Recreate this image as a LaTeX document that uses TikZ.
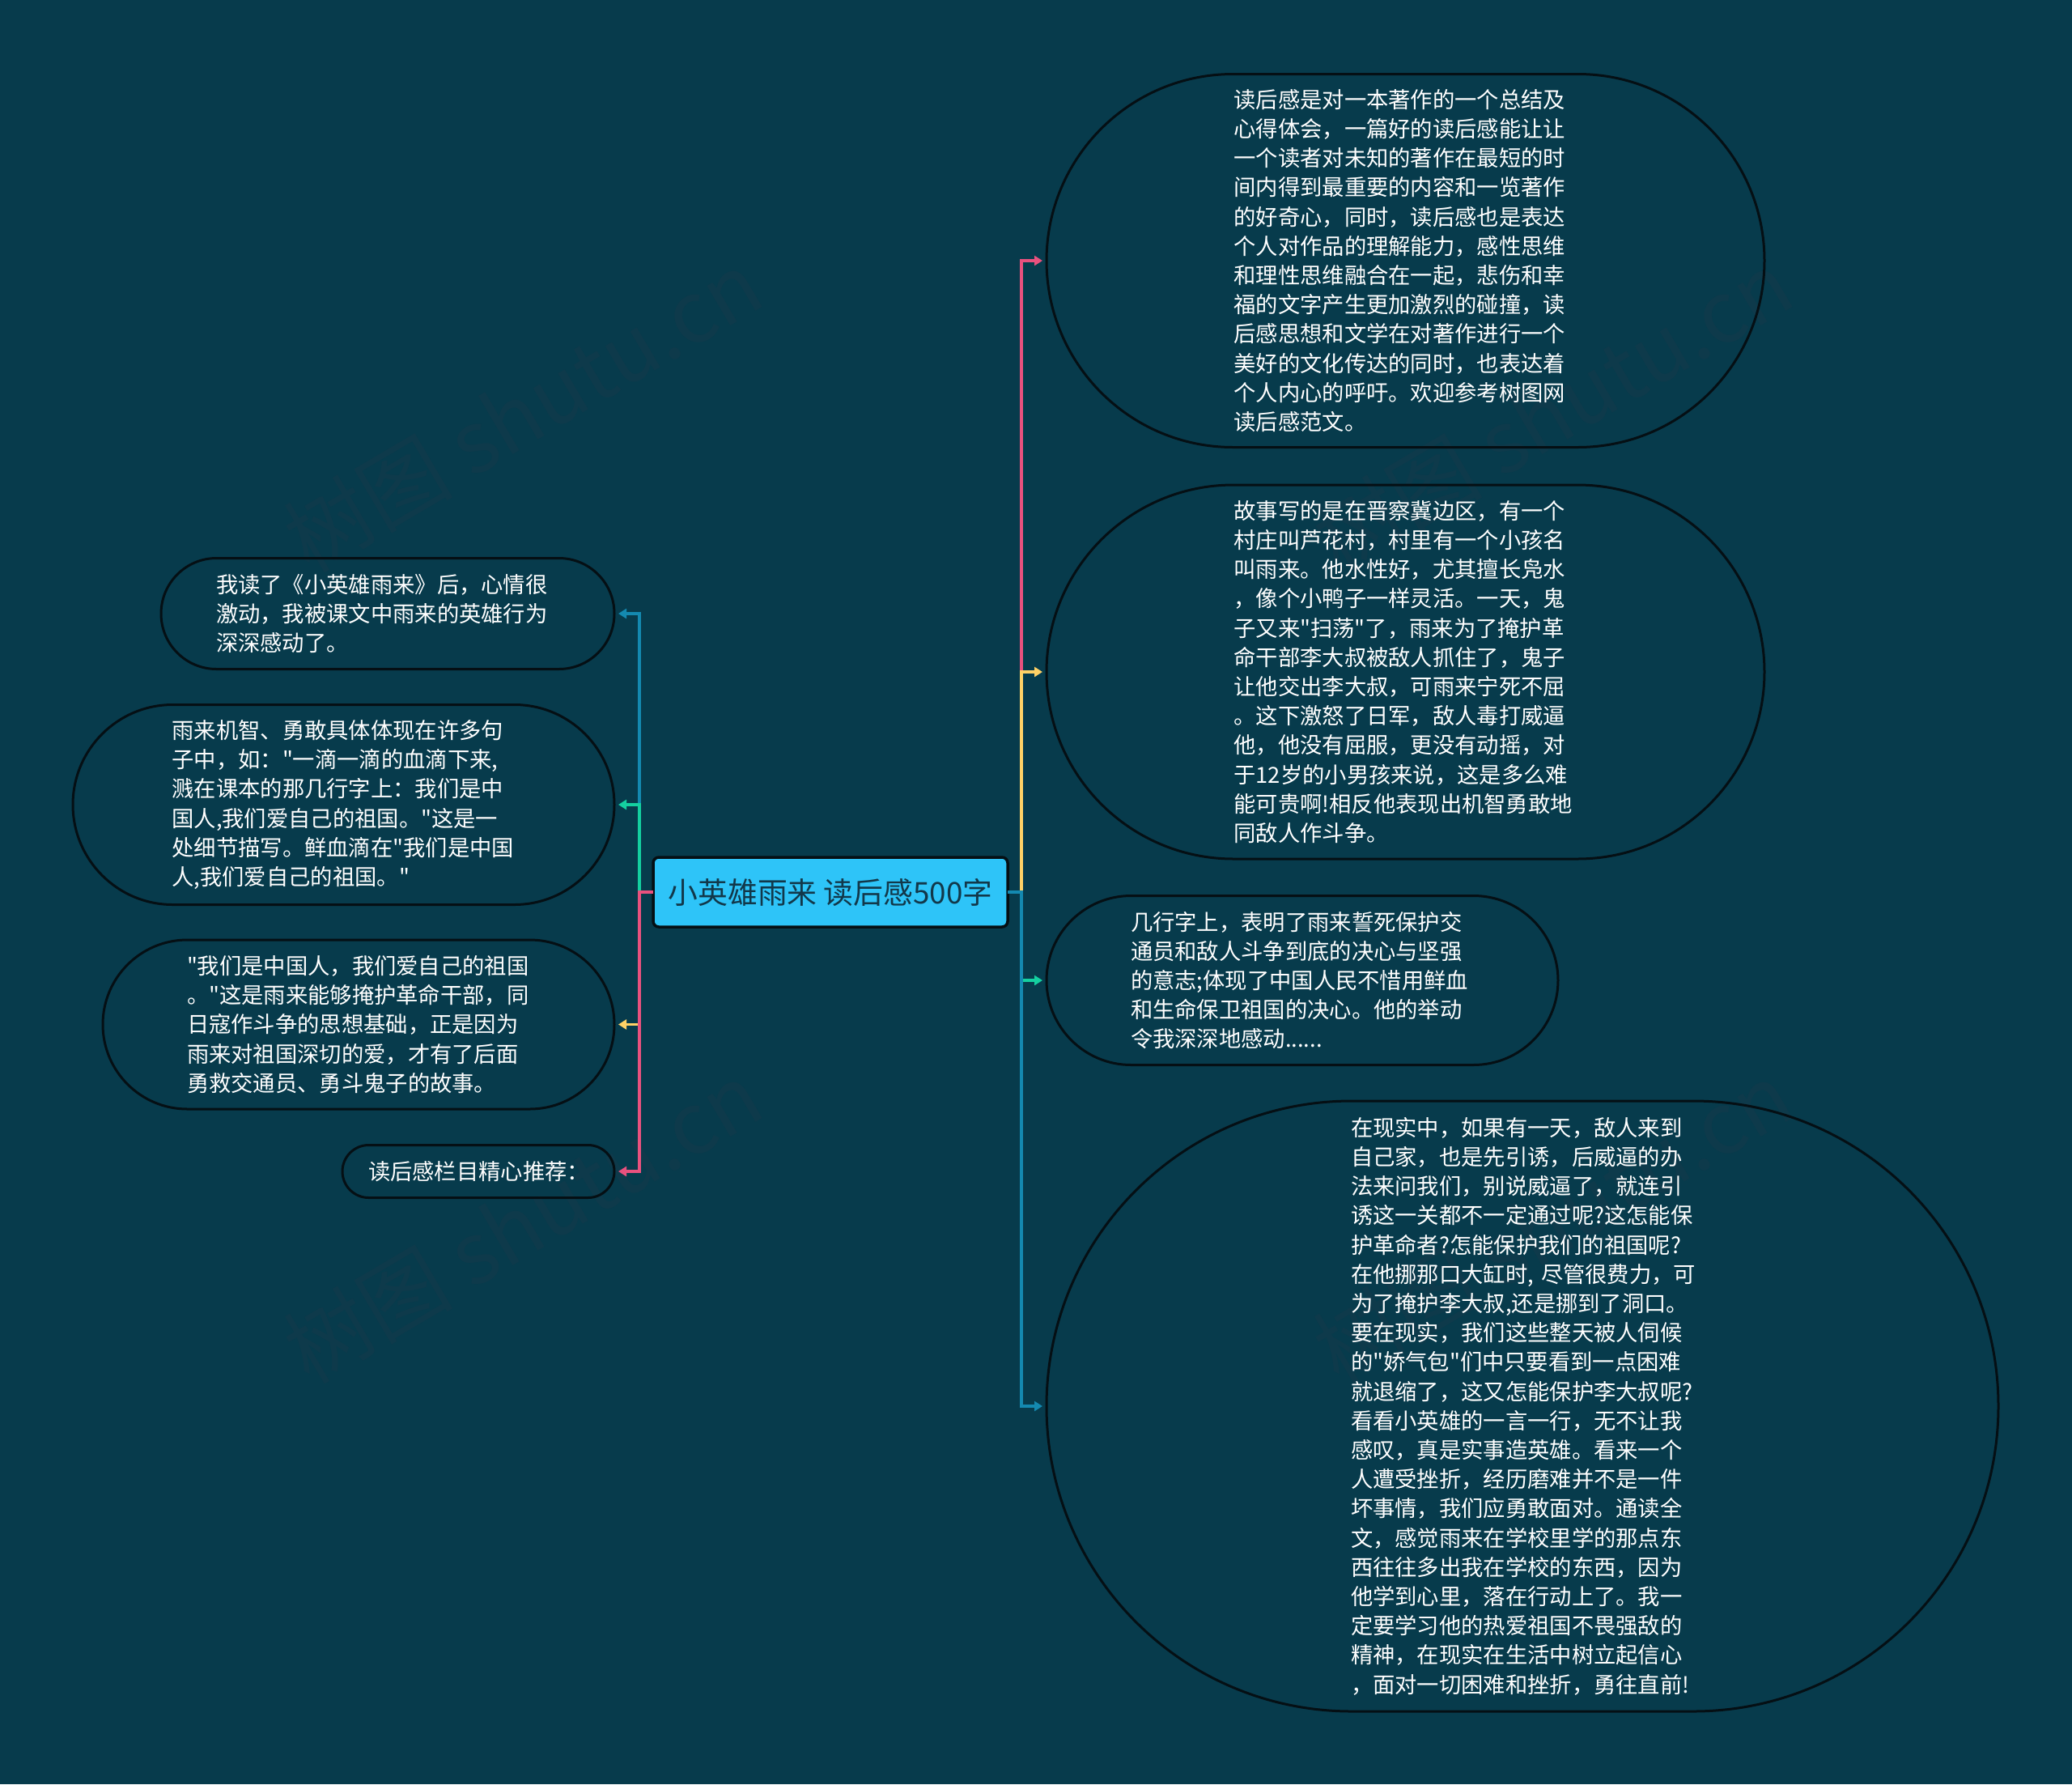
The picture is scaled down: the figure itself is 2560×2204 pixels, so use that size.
\documentclass[tikz,border=0pt]{standalone}
\usepackage{fontspec}
\usetikzlibrary{arrows.meta,shapes.misc}
\newfontfamily\cjk{Noto Sans CJK SC}
\definecolor{bgc}{HTML}{073B4C}
\definecolor{wmc}{HTML}{0E3A4B}
\definecolor{rootc}{HTML}{2EC4F8}
\definecolor{pinkc}{HTML}{E9517E}
\definecolor{yelc}{HTML}{FFD166}
\definecolor{grnc}{HTML}{14CFA0}
\definecolor{bluc}{HTML}{1489B0}
\definecolor{inkc}{HTML}{12384A}
\definecolor{edgec}{HTML}{050F14}
\tikzset{
  x=1pt,y=-1pt,
  bubble/.style={draw=edgec,line width=3pt,shape=rounded rectangle,rounded rectangle arc length=180,
    inner sep=0pt,outer sep=0pt,text=white,text width=424pt,align=left,
    font=\cjk\fontsize{27.3}{36.2}\selectfont},
  rootbox/.style={draw=edgec,line width=3.5pt,fill=rootc,rounded corners=7pt,inner sep=0pt,outer sep=0pt,
    minimum width=438pt,minimum height=86pt,text=inkc,font=\cjk\fontsize{36.8}{44}\selectfont},
  wmark/.style={text=wmc,rotate=30.5,inner sep=0pt,font=\cjk\fontsize{105}{120}\selectfont},
  link/.style={line width=3.4pt,line join=miter,-{Triangle[length=10pt,width=12pt]},shorten >=5pt}
}
\begin{document}
\begin{tikzpicture}
\useasboundingbox[fill=bgc] (0,0) rectangle (2560,2204);
\node[wmark] (w1) at (646,508) {树图 shutu.cn};
\node[wmark] (w2) at (1918,508) {树图 shutu.cn};
\node[wmark] (w3) at (646,1510) {树图 shutu.cn};
\node[wmark] (w4) at (1918,1510) {树图 shutu.cn};

\node[rootbox] (root) at (1026,1102) {小英雄雨来 读后感500字};

\node[bubble,minimum width=887pt,minimum height=461pt] (n1) at (1736.5,322) {读后感是对一本著作的一个总结及\\
心得体会，一篇好的读后感能让让\\
一个读者对未知的著作在最短的时\\
间内得到最重要的内容和一览著作\\
的好奇心，同时，读后感也是表达\\
个人对作品的理解能力，感性思维\\
和理性思维融合在一起，悲伤和幸\\
福的文字产生更加激烈的碰撞，读\\
后感思想和文学在对著作进行一个\\
美好的文化传达的同时，也表达着\\
个人内心的呼吁。欢迎参考树图网\\
读后感范文。};

\node[bubble,minimum width=887pt,minimum height=462pt] (n2) at (1736.5,830) {故事写的是在晋察冀边区，有一个\\
村庄叫芦花村，村里有一个小孩名\\
叫雨来。他水性好，尤其擅长凫水\\
，像个小鸭子一样灵活。一天，鬼\\
子又来"扫荡"了，雨来为了掩护革\\
命干部李大叔被敌人抓住了，鬼子\\
让他交出李大叔，可雨来宁死不屈\\
。这下激怒了日军，敌人毒打威逼\\
他，他没有屈服，更没有动摇，对\\
于12岁的小男孩来说，这是多么难\\
能可贵啊!相反他表现出机智勇敢地\\
同敌人作斗争。};

\node[bubble,minimum width=632pt,minimum height=209pt] (n3) at (1609,1211) {几行字上，表明了雨来誓死保护交\\
通员和敌人斗争到底的决心与坚强\\
的意志;体现了中国人民不惜用鲜血\\
和生命保卫祖国的决心。他的举动\\
令我深深地感动......};

\node[bubble,minimum width=1176pt,minimum height=754pt] (n4) at (1881,1737) {在现实中，如果有一天，敌人来到\\
自己家，也是先引诱，后威逼的办\\
法来问我们，别说威逼了，就连引\\
诱这一关都不一定通过呢?这怎能保\\
护革命者?怎能保护我们的祖国呢?\\
在他挪那口大缸时,~尽管很费力，可\\
为了掩护李大叔,还是挪到了洞口。\\
要在现实，我们这些整天被人伺候\\
的"娇气包"们中只要看到一点困难\\
就退缩了，这又怎能保护李大叔呢?\\
看看小英雄的一言一行，无不让我\\
感叹，真是实事造英雄。看来一个\\
人遭受挫折，经历磨难并不是一件\\
坏事情，我们应勇敢面对。通读全\\
文，感觉雨来在学校里学的那点东\\
西往往多出我在学校的东西，因为\\
他学到心里，落在行动上了。我一\\
定要学习他的热爱祖国不畏强敌的\\
精神，在现实在生活中树立起信心\\
，面对一切困难和挫折，勇往直前!};

\node[bubble,minimum width=560pt,minimum height=137pt] (l1) at (479,758) {我读了《小英雄雨来》后，心情很\\
激动，我被课文中雨来的英雄行为\\
深深感动了。};

\node[bubble,minimum width=669pt,minimum height=247pt] (l2) at (424.5,994) {雨来机智、勇敢具体体现在许多句\\
子中，如："一滴一滴的血滴下来,\\
溅在课本的那几行字上：我们是中\\
国人,我们爱自己的祖国。"这是一\\
处细节描写。鲜血滴在"我们是中国\\
人,我们爱自己的祖国。"};

\node[bubble,minimum width=632pt,minimum height=209pt] (l3) at (443,1265.5) {"我们是中国人，我们爱自己的祖国\\
。"这是雨来能够掩护革命干部，同\\
日寇作斗争的思想基础，正是因为\\
雨来对祖国深切的爱，才有了后面\\
勇救交通员、勇斗鬼子的故事。};

\node[bubble,text width=272pt,minimum width=336pt,minimum height=65pt] (l4) at (591,1447) {读后感栏目精心推荐：};

\draw[link,pinkc] (root.east) -- ++(17,0) |- (n1.west);
\draw[link,yelc]  (root.east) -- ++(17,0) |- (n2.west);
\draw[link,grnc]  (root.east) -- ++(17,0) |- (n3.west);
\draw[link,bluc]  (root.east) -- ++(17,0) |- (n4.west);
\draw[link,bluc]  (root.west) -- ++(-17,0) |- (l1.east);
\draw[link,grnc]  (root.west) -- ++(-17,0) |- (l2.east);
\draw[link,yelc]  (root.west) -- ++(-17,0) |- (l3.east);
\draw[link,pinkc] (root.west) -- ++(-17,0) |- (l4.east);
\end{tikzpicture}
\end{document}
